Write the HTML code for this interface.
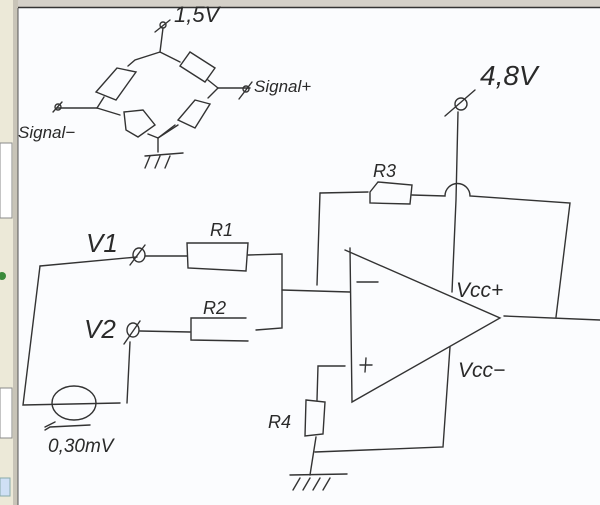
<!DOCTYPE html>
<html><head><meta charset="utf-8"><style>
html,body{margin:0;padding:0;width:600px;height:505px;overflow:hidden;background:#fff}
svg{display:block}
text{font-family:"Liberation Sans",sans-serif;fill:#2a2a2a}
</style></head><body>
<svg width="600" height="505" viewBox="0 0 600 505">
<rect x="0" y="0" width="600" height="505" fill="#fbfcfe"/>
<rect x="0" y="0" width="600" height="7" fill="#d4d0c8"/>
<line x1="18" y1="7.5" x2="600" y2="7.5" stroke="#333" stroke-width="1.5"/>
<rect x="0" y="0" width="13" height="505" fill="#ece9d8"/>
<rect x="13" y="0" width="5" height="505" fill="#c8c4b8"/>
<line x1="18" y1="8" x2="18" y2="505" stroke="#555" stroke-width="1"/>
<rect x="0" y="143" width="12" height="75" fill="#fff" stroke="#8a8a8a"/>
<rect x="0" y="388" width="12" height="50" fill="#fff" stroke="#8a8a8a"/>
<rect x="0" y="478" width="10" height="18" fill="#cfe0f5" stroke="#8aa"/>
<circle cx="2" cy="276" r="4" fill="#3a8a3a"/>
<g fill="none" stroke="#333" stroke-width="1.4" stroke-linecap="round">
<!-- bridge -->
<path d="M163,28 L160,52"/><path d="M155,32 L170,20"/><circle cx="163" cy="25" r="3"/>
<path d="M160,52 L135,60 L128,66"/>
<path d="M117,68 L136,72 L116,100 L96,92 Z"/>
<path d="M104,97 L97,108"/>
<path d="M57,108 L97,108"/><path d="M53,112 L62,102"/><circle cx="58" cy="107" r="3"/>
<path d="M97,108 L120,115"/>
<path d="M124,112 L143,110 L155,125 L138,137 L126,130 Z"/>
<path d="M148,134 L158,138 L175,125"/>
<path d="M158,138 L158,152"/><path d="M145,156 L183,153"/>
<path d="M150,156 L145,168"/><path d="M160,156 L155,168"/><path d="M170,156 L165,168"/>
<path d="M160,52 L180,62"/>
<path d="M190,52 L215,68 L205,82 L180,66 Z"/>
<path d="M208,80 L218,88"/>
<path d="M218,88 L250,88"/><path d="M239,99 L252,82"/><circle cx="246" cy="89" r="3"/>
<path d="M218,88 L208,98"/>
<path d="M195,100 L210,104 L195,128 L178,120 Z"/>
<path d="M178,125 L158,138"/>
<!-- input circuit -->
<path d="M40,266 L137,257"/><path d="M130,265 L145,245"/><ellipse cx="139" cy="255" rx="6" ry="7"/>
<path d="M145,256 L187,256"/>
<path d="M187,243 L248,243 L246,271 L188,268 Z"/>
<path d="M248,255 L282,254 L282,328 L256,330"/>
<path d="M246,318 L191,318 L191,340 L248,341"/>
<path d="M140,331 L190,332"/><path d="M124,344 L140,321"/><ellipse cx="133" cy="330" rx="6" ry="7"/>
<path d="M130,342 L127,403"/>
<path d="M40,266 L23,405 L120,403"/>
<ellipse cx="74" cy="403" rx="22" ry="17"/>
<path d="M90,425 L50,427 L45,430"/><path d="M45,427 L55,422"/>
<!-- opamp -->
<path d="M282,290 L350,292"/>
<path d="M350,248 L352,402 L500,318 L345,250"/>
<path d="M320,193 L368,192"/>
<path d="M370,192 L378,182 L412,185 L410,204 L370,203 Z"/>
<path d="M412,195 L445,196 A11,11 0 0 1 470,196 L570,203 L556,317"/>
<path d="M320,193 L317,285"/>
<path d="M458,112 L456,200 L452,292"/>
<path d="M445,116 L475,90"/><ellipse cx="461" cy="104" rx="6" ry="6"/>
<path d="M504,316 L600,320"/>
<path d="M450,347 L443,447 L315,452"/>
<path d="M345,366 L318,366 L317,400"/>
<path d="M306,400 L325,402 L323,434 L305,436 Z"/>
<path d="M316,437 L310,475"/>
<path d="M290,475 L347,474"/>
<path d="M300,478 L293,490"/><path d="M310,478 L303,490"/><path d="M320,478 L313,490"/><path d="M330,478 L323,490"/>
<path d="M357,282 L378,282"/>
<path d="M360,365 L372,365"/><path d="M366,358 L365,372"/>
</g>
<text x="174" y="22" font-size="22" font-style="italic">1,5V</text>
<text x="18" y="138" font-size="17" font-style="italic">Signal−</text>
<text x="254" y="92" font-size="17" font-style="italic">Signal+</text>
<text x="480" y="85" font-size="28" font-style="italic">4,8V</text>
<text x="373" y="177" font-size="18" font-style="italic">R3</text>
<text x="210" y="236" font-size="18" font-style="italic">R1</text>
<text x="203" y="314" font-size="18" font-style="italic">R2</text>
<text x="86" y="252" font-size="26" font-style="italic">V1</text>
<text x="84" y="338" font-size="26" font-style="italic">V2</text>
<text x="268" y="428" font-size="18" font-style="italic">R4</text>
<text x="48" y="452" font-size="19" font-style="italic">0,30mV</text>
<text x="456" y="297" font-size="21" font-style="italic">Vcc+</text>
<text x="458" y="377" font-size="21" font-style="italic">Vcc−</text>
</svg>
</body></html>
